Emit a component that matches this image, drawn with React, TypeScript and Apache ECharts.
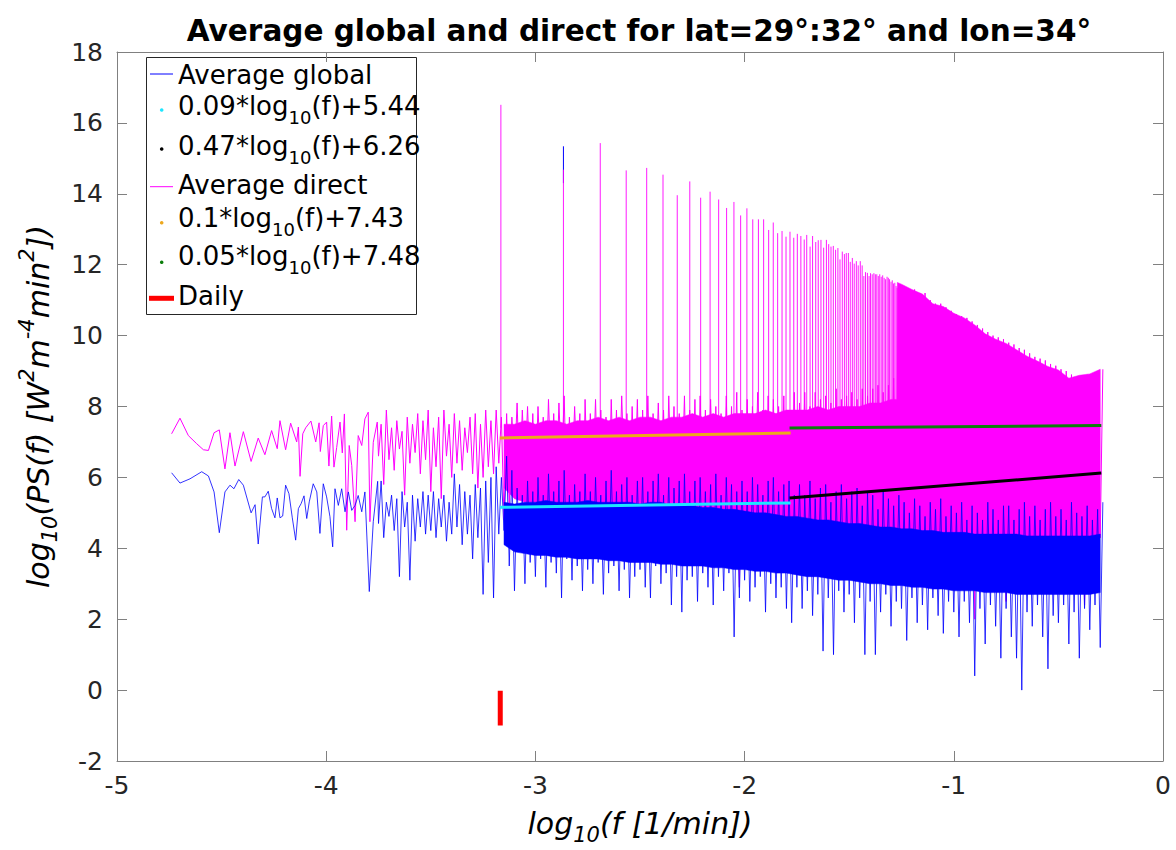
import React, { useEffect, useRef } from "react";
import * as echarts from "echarts";

const FONT = "DejaVu Sans";

// ---------- axis ticks ----------
const xTicks = [-5, -4, -3, -2, -1, 0];
const yTicks = [-2, 0, 2, 4, 6, 8, 10, 12, 14, 16, 18];

// ---------- sparse low-frequency part (read vertices) ----------
const globalSparseX = [-4.739, -4.699, -4.651, -4.595, -4.563, -4.536, -4.511, -4.484, -4.46, -4.441, -4.418, -4.396, -4.359, -4.34, -4.325, -4.305, -4.293, -4.277, -4.261, -4.245, -4.234, -4.221, -4.208, -4.194, -4.178, -4.162, -4.146, -4.133, -4.12, -4.106, -4.093, -4.081, -4.062, -4.045, -4.03, -4.014, -3.998, -3.982, -3.969, -3.958, -3.942, -3.926, -3.91, -3.894, -3.878, -3.862, -3.847, -3.83, -3.815, -3.794, -3.775, -3.754];
const globalSparseY = [6.13, 5.84, 5.96, 6.16, 6.04, 5.59, 4.44, 5.59, 5.78, 5.68, 5.94, 5.78, 5.0, 5.23, 4.12, 5.45, 5.45, 5.61, 5.12, 4.86, 5.42, 4.86, 4.91, 5.78, 5.54, 4.86, 4.23, 5.12, 5.26, 5.48, 4.84, 5.31, 5.82, 5.59, 4.42, 5.82, 5.45, 4.89, 4.04, 5.68, 5.21, 5.68, 5.03, 5.59, 5.07, 5.21, 5.49, 5.03, 5.59, 2.78, 4.75, 5.89];

const directSparseX = [-4.739, -4.699, -4.659, -4.619, -4.587, -4.563, -4.536, -4.511, -4.484, -4.46, -4.436, -4.396, -4.359, -4.325, -4.293, -4.261, -4.234, -4.221, -4.194, -4.17, -4.141, -4.133, -4.125, -4.112, -4.098, -4.073, -4.05, -4.034, -4.028, -4.014, -3.998, -3.987, -3.974, -3.963, -3.95, -3.934, -3.923, -3.913, -3.902, -3.89, -3.878, -3.862, -3.847, -3.83, -3.815, -3.799, -3.791, -3.775, -3.756];
const directSparseY = [7.23, 7.67, 7.18, 6.95, 6.78, 6.76, 7.26, 7.34, 6.24, 7.26, 6.32, 7.29, 6.45, 7.11, 6.64, 7.32, 6.81, 7.6, 6.78, 7.53, 7.0, 7.42, 6.03, 7.23, 7.4, 7.59, 7.0, 7.54, 6.73, 7.46, 7.56, 6.32, 7.73, 6.29, 6.84, 7.56, 6.69, 7.79, 4.51, 6.9, 6.34, 4.75, 7.18, 6.9, 7.65, 7.84, 4.75, 6.99, 7.56];

// ---------- dense part: extremes on a fine grid (-3.75 .. -0.30, step 0.025) ----------
const fineStart = -3.75;
const fineStep = 0.025;
const globalSpikeHi = [
  5.9, 5.3, 5.5, 5.4, 5.6, 5.3, 5.5, 5.4, 5.6, 5.5,
  5.6, 5.4, 5.5, 5.3, 6.1, 5.8, 5.6, 5.5, 5.8, 5.7,
  5.9, 6.0, 6.3, 6.0, 6.6, 6.2, 5.7, 5.5, 5.9, 5.6,
  6.0, 5.5, 6.1, 5.6, 5.9, 6.2, 5.5, 5.8, 5.6, 6.1,
  5.6, 6.0, 5.5, 5.9, 6.2, 5.6, 5.8, 6.0, 5.5, 5.9,
  6.0, 5.6, 5.9, 6.1, 5.5, 6.0, 5.7, 5.9, 6.1, 5.6,
  5.9, 6.0, 5.6, 5.8, 6.1, 5.5, 6.0, 5.8, 5.6, 5.9,
  5.6, 6.0, 5.8, 5.5, 5.9, 6.0, 5.6, 5.8, 5.9, 5.5,
  5.8, 5.5, 5.9, 5.4, 5.7, 5.8, 5.3, 5.6, 5.8, 5.4,
  5.6, 5.7, 5.2, 5.6, 5.5, 5.1, 5.6, 5.4, 5.2, 5.5,
  5.3, 5.0, 5.4, 5.2, 4.9, 5.3, 5.1, 5.4, 4.9, 5.2,
  5.0, 5.3, 4.8, 5.2, 5.0, 4.8, 5.3, 5.1, 4.8, 5.2,
  5.2, 4.8, 5.1, 5.3, 4.9, 5.2, 4.8, 5.1, 5.3, 4.9,
  5.1, 4.8, 5.3, 5.0, 4.9, 5.2, 4.8, 5.1, 5.3,
];
const globalSpikeLo = [
  4.7, 4.3, 4.9, 4.5, 3.2, 4.6, 3.1, 4.2, 4.6, 4.4,
  4.5, 4.3, 4.6, 4.2, 4.4, 4.6, 4.1, 4.4, 3.7, 4.3,
  2.7, 3.6, 2.6, 4.4, 4.5, 3.5, 2.8, 3.9, 3.0, 3.6,
  3.2, 3.7, 2.9, 3.6, 3.3, 2.6, 3.7, 3.1, 3.5, 2.8,
  3.4, 3.0, 3.6, 2.7, 3.3, 3.5, 2.8, 3.4, 2.6, 3.2,
  3.4, 2.9, 2.6, 3.5, 3.0, 3.3, 2.4, 3.2, 2.2, 3.1,
  3.2, 2.5, 3.3, 2.9, 2.4, 3.2, 2.8, 3.3, 1.5, 2.6,
  3.1, 2.5, 2.9, 3.2, 2.2, 3.0, 2.6, 2.9, 2.3, 1.9,
  2.9, 2.3, 2.8, 2.1, 2.7, 1.1, 2.6, 1.0, 2.8, 2.2,
  2.7, 1.9, 2.6, 1.0, 2.5, 1.0, 2.2, 2.7, 1.8, 2.5,
  2.3, 1.4, 2.6, 1.9, 2.4, 1.7, 2.6, 2.1, 1.6, 2.5,
  2.2, 1.5, 2.5, 1.9, 0.4, 2.3, 1.3, 2.4, 1.8, 0.9,
  2.3, 1.5, 0.9, 0.0, 2.2, 1.8, 2.4, 1.5, 0.6, 2.1,
  1.9, 2.4, 1.3, 2.2, 0.9, 2.3, 1.7, 2.4, 1.2,
];
const directSpikeHi = [
  7.5, 7.9, 7.4, 7.6, 7.3, 7.7, 7.5, 7.8, 7.6, 7.9,
  7.4, 7.7, 7.9, 7.5, 7.8, 7.6, 7.4, 7.7, 7.8, 7.5,
  7.9, 7.6, 7.9, 7.7, 7.8, 7.7, 8.1, 7.9, 8.0, 7.8,
  8.0, 7.7, 8.2, 7.8, 8.1, 8.3, 7.7, 8.0, 7.8, 8.2,
  7.8, 8.2, 7.9, 7.7, 8.2, 7.9, 8.3, 7.8, 8.0, 8.2,
  7.9, 8.3, 7.8, 8.1, 7.9, 8.3, 8.0, 7.8, 8.3, 7.9,
  8.2, 8.3, 7.9, 8.2, 8.0, 7.8, 8.3, 8.0, 8.4, 7.9,
  8.2, 8.0, 8.4, 7.9, 8.3, 8.2, 8.0, 8.3, 7.9, 8.4,
  8.1, 8.4, 8.0, 8.4, 8.2, 8.3, 8.1, 8.5, 8.2, 8.3,
  8.4, 8.2, 8.5, 8.3, 8.5, 8.6, 8.4, 8.6, 8.8, 9.0,
  11.4, 11.3, 11.3, 11.2, 11.2, 11.0, 10.9, 10.9, 10.8, 10.7,
  10.6, 10.55, 10.5, 10.4, 10.3, 10.2, 10.1, 10.0, 9.95, 9.9,
  9.8, 9.75, 9.65, 9.6, 9.5, 9.4, 9.35, 9.3, 9.2, 9.15,
  9.05, 9.0, 8.9, 8.8, 8.75, 8.9, 8.9, 8.95, 9.05,
];
const directSpikeLo = [
  6.6, 5.8, 6.5, 6.2, 6.8, 5.5, 6.4, 6.7, 6.1, 6.5,
  5.6, 6.3, 5.4, 6.6, 6.0, 6.4, 6.2, 6.7, 6.1, 5.7,
  6.0, 6.3, 6.1, 6.4, 4.8, 5.2, 6.3, 5.8, 6.2, 5.9,
  5.8, 6.1, 5.5, 6.0, 5.7, 6.2, 5.4, 5.9, 6.0, 3.9,
  5.6, 5.9, 5.2, 5.8, 4.9, 5.7, 5.5, 6.0, 5.3, 5.8,
  4.6, 5.6, 5.2, 5.8, 5.4, 5.0, 5.7, 5.3, 5.6, 4.8,
  5.4, 4.9, 5.5, 5.1, 5.6, 4.8, 5.3, 5.0, 5.4, 2.9,
  5.2, 4.7, 5.3, 5.0, 4.6, 5.2, 4.9, 5.3, 4.5, 5.0,
  4.8, 5.1, 4.4, 4.9, 4.6, 5.0, 4.3, 4.8, 4.5, 4.9,
  4.6, 4.2, 4.8, 4.4, 4.7, 4.1, 4.6, 4.3, 4.7, 4.4,
  4.5, 4.2, 4.6, 4.3, 4.4, 4.0, 4.5, 4.3, 4.1, 4.4,
  4.3, 4.5, 4.1, 4.4, 2.0, 4.3, 4.0, 4.4, 4.2, 4.5,
  2.5, 4.3, 4.1, 4.4, 4.0, 4.3, 4.2, 4.5, 4.1, 4.3,
  4.2, 4.4, 4.0, 4.3, 4.1, 2.4, 4.4, 4.2, 4.3,
];

// ---------- dense part: solid core ----------
const coreStart = -3.15;
const coreStep = 0.05;
const globalCoreHi = [
  5.3, 5.25, 5.3, 5.3, 5.35, 5.3, 5.3, 5.3, 5.35, 5.3,
  5.3, 5.3, 5.3, 5.25, 5.3, 5.3, 5.2, 5.25, 5.2, 5.15,
  5.15, 5.1, 5.1, 5.05, 5.0, 5.0, 4.95, 4.9, 4.9, 4.85,
  4.8, 4.8, 4.75, 4.7, 4.7, 4.65, 4.6, 4.6, 4.55, 4.55,
  4.5, 4.5, 4.45, 4.45, 4.45, 4.4, 4.4, 4.4, 4.4, 4.4,
  4.35, 4.35, 4.35, 4.35, 4.35, 4.35, 4.35, 4.4,
];
const globalCoreLo = [
  4.1, 3.9, 3.85, 3.8, 3.8, 3.75, 3.75, 3.7, 3.7, 3.7,
  3.65, 3.65, 3.6, 3.6, 3.6, 3.55, 3.55, 3.5, 3.5, 3.5,
  3.45, 3.45, 3.4, 3.4, 3.35, 3.35, 3.3, 3.3, 3.25, 3.2,
  3.2, 3.15, 3.1, 3.1, 3.05, 3.0, 3.0, 2.95, 2.95, 2.9,
  2.9, 2.85, 2.85, 2.8, 2.8, 2.8, 2.75, 2.75, 2.75, 2.7,
  2.7, 2.7, 2.7, 2.7, 2.7, 2.7, 2.7, 2.75,
];
const directCoreX = [
  -3.15, -3.1, -3.05, -3.0, -2.95, -2.9, -2.85, -2.8, -2.75, -2.7,
  -2.65, -2.6, -2.55, -2.5, -2.45, -2.4, -2.35, -2.3, -2.25, -2.2,
  -2.15, -2.1, -2.05, -2.0, -1.95, -1.9, -1.85, -1.8, -1.75, -1.7,
  -1.65, -1.6, -1.55, -1.5, -1.45, -1.4, -1.35, -1.3, -1.272, -1.27,
  -1.25, -1.2, -1.15, -1.1, -1.05, -1.0, -0.95, -0.9, -0.85, -0.8,
  -0.75, -0.7, -0.65, -0.6, -0.55, -0.5, -0.45, -0.4, -0.35, -0.3,
];
const directCoreHi = [
  7.5, 7.5, 7.6, 7.5, 7.6, 7.6, 7.5, 7.6, 7.6, 7.7,
  7.6, 7.7, 7.6, 7.7, 7.7, 7.6, 7.7, 7.7, 7.8, 7.7,
  7.8, 7.7, 7.8, 7.8, 7.8, 7.9, 7.8, 7.9, 7.9, 7.9,
  8.0, 7.9, 8.0, 8.0, 8.0, 8.1, 8.1, 8.2, 8.2, 11.5,
  11.45, 11.3, 11.17, 10.9, 10.82, 10.63, 10.5, 10.3, 10.05, 9.9,
  9.78, 9.6, 9.42, 9.28, 9.13, 9.03, 8.8, 8.88, 8.92, 9.05,
];
const directCoreLo = [
  5.7, 5.4, 5.3, 5.3, 5.25, 5.25, 5.2, 5.2, 5.2, 5.15,
  5.15, 5.15, 5.1, 5.1, 5.1, 5.1, 5.05, 5.05, 5.0, 5.0,
  5.0, 4.95, 4.95, 4.9, 4.9, 4.85, 4.85, 4.8, 4.8, 4.75,
  4.75, 4.7, 4.7, 4.65, 4.65, 4.6, 4.6, 4.55, 4.55, 4.55,
  4.5, 4.5, 4.45, 4.45, 4.4, 4.4, 4.4, 4.35, 4.3, 4.3,
  4.3, 4.3, 4.3, 4.3, 4.3, 4.3, 4.3, 4.3, 4.3, 4.3,
];

// ---------- daily harmonics (spike tops) ----------
const harmBase = 7.4;
const directHarmX = [-3.165, -2.866, -2.69, -2.566, -2.468, -2.39, -2.322, -2.262, -2.21, -2.165, -2.124, -2.086, -2.051, -2.019, -1.989, -1.961, -1.934, -1.909, -1.885, -1.863, -1.842, -1.821, -1.802, -1.783, -1.765, -1.748, -1.731, -1.715, -1.703, -1.687, -1.675, -1.66, -1.648, -1.635, -1.622, -1.609, -1.598, -1.587, -1.576, -1.565, -1.554, -1.544, -1.533, -1.523, -1.514, -1.504, -1.495, -1.485, -1.476, -1.466, -1.457, -1.447, -1.438, -1.43, -1.422, -1.413, -1.405, -1.398, -1.39, -1.382, -1.375, -1.368, -1.361, -1.354, -1.347, -1.34, -1.333, -1.326, -1.319, -1.313, -1.307, -1.3, -1.294, -1.288, -1.282, -1.276, -1.271, -1.265, -1.259, -1.254, -1.248, -1.243, -1.238, -1.232, -1.227, -1.222, -1.217];
const directHarmY = [
  16.51, 14.68, 15.43, 14.66, 14.73, 14.54, 13.96, 14.35, 13.89, 14.06,
  13.84, 13.6, 13.77, 13.39, 13.59, 13.28, 13.28, 13.28, 12.98, 13.19,
  12.89, 12.95, 12.79, 12.93, 12.76, 12.87, 12.81, 12.71, 12.84, 12.51,
  12.81, 12.64, 12.69, 12.7, 12.48, 12.7, 12.58, 12.51, 12.53, 12.42,
  12.47, 12.15, 12.37, 12.3, 12.33, 12.33, 12.08, 12.19, 12.03, 12.1,
  11.98, 12.1, 11.98, 11.68, 11.79, 11.77, 11.68, 11.76, 11.73, 11.76,
  11.73, 11.73, 11.68, 11.73, 11.66, 11.7, 11.63, 11.59, 11.66, 11.63,
  11.59, 11.52, 11.56, 11.47, 11.49, 11.4, 11.35, 11.31, 11.33, 11.28,
  11.31, 11.24, 11.31, 11.26, 11.24, 11.26, 11.21,
];
const globalHarmX = [-2.866];
const globalHarmY = [15.34];
const globalHarmBase = 14.3;

// ---------- fitted lines (end points) ----------
const fitGlobal1X = [-3.17, -1.78];
const fitGlobal1Y = [5.155, 5.28];
const fitGlobal2X = [-1.785, -0.295];
const fitGlobal2Y = [5.421, 6.121];
const fitDirect1X = [-3.17, -1.78];
const fitDirect1Y = [7.113, 7.252];
const fitDirect2X = [-1.785, -0.295];
const fitDirect2Y = [7.391, 7.465];

// ---------- daily marker ----------
const dailyX = [-3.168, -3.168];
const dailyY = [-0.02, -1.0];

const legendLabels = [
  "Average global",
  "0.09*log{s|10}(f)+5.44",
  "0.47*log{s|10}(f)+6.26",
  "Average direct",
  "0.1*log{s|10}(f)+7.43",
  "0.05*log{s|10}(f)+7.48",
  "Daily",
];

const BLUE = "#0000ff";
const MAGENTA = "#ff00ff";
const CYAN = "#1ee6ff";
const ORANGE = "#eda81e";
const GREEN = "#0a7d0a";
const AXIS = "#808080";
const LABEL = "#262626";

function pairs(xs: number[], ys: number[]) {
  return xs.map((x, i) => [x, ys[i]]);
}

function gridX(n: number) {
  const out: number[] = [];
  for (let j = 0; j < n; j++) out.push(coreStart + j * coreStep);
  return out;
}

function zigzag(lo: number[], hi: number[]) {
  const out: number[][] = [];
  for (let i = 0; i < lo.length; i++) {
    const x = fineStart + i * fineStep;
    out.push([x, lo[i]]);
    out.push([x + fineStep / 2, hi[i]]);
  }
  return out;
}

function band(xs: number[], lo: number[], hi: number[], color: string, z: number) {
  return {
    type: "custom",
    z,
    silent: true,
    clip: true,
    data: xs.map((x, j) => [x, hi[j], lo[j]]),
    encode: { x: 0, y: [1, 2] },
    renderItem: (params: any, api: any) => {
      if (params.dataIndex !== 0) return null;
      const pts: number[][] = [];
      for (let j = 0; j < xs.length; j++) pts.push(api.coord([xs[j], hi[j]]));
      for (let j = xs.length - 1; j >= 0; j--) pts.push(api.coord([xs[j], lo[j]]));
      return { type: "polygon", shape: { points: pts }, style: { fill: color, stroke: color, lineWidth: 0.5 } };
    },
  };
}

function spikes(xs: number[], ys: number[], base: number, color: string, z: number, opacity: number) {
  return {
    type: "custom",
    z,
    silent: true,
    clip: true,
    data: pairs(xs, ys),
    encode: { x: 0, y: 1 },
    renderItem: (params: any, api: any) => {
      const top = api.coord([api.value(0), api.value(1)]);
      const bot = api.coord([api.value(0), base]);
      return {
        type: "line",
        shape: { x1: top[0], y1: top[1], x2: bot[0], y2: bot[1] },
        style: { stroke: color, lineWidth: 1, opacity },
      };
    },
  };
}

function lineSeries(data: number[][], color: string, width: number, z: number, opacity = 1) {
  return {
    type: "line",
    data,
    z,
    silent: true,
    showSymbol: false,
    symbol: "none",
    clip: true,
    lineStyle: { color, width, opacity, cap: "butt" },
  };
}

const subRich = {
  n: { fontFamily: FONT, fontSize: 26, color: "#000", lineHeight: 40, verticalAlign: "middle" },
  s: { fontFamily: FONT, fontSize: 18, color: "#000", verticalAlign: "bottom" },
};

function buildOption() {
  const legendRows = [74.6, 106.3, 146.3, 185.3, 218, 256.3, 296.3];
  const legendChildren: any[] = [
    { type: "rect", shape: { x: 146.5, y: 57.5, width: 270, height: 257 }, style: { fill: "#fff", stroke: LABEL, lineWidth: 1 } },
    { type: "line", shape: { x1: 150, y1: 74, x2: 173, y2: 74 }, style: { stroke: BLUE, lineWidth: 1 } },
    { type: "circle", shape: { cx: 161.7, cy: 110, r: 1.8 }, style: { fill: CYAN } },
    { type: "circle", shape: { cx: 161.7, cy: 149, r: 1.8 }, style: { fill: "#000" } },
    { type: "line", shape: { x1: 150, y1: 186.7, x2: 173, y2: 186.7 }, style: { stroke: MAGENTA, lineWidth: 1 } },
    { type: "circle", shape: { cx: 161.7, cy: 222.7, r: 1.8 }, style: { fill: ORANGE } },
    { type: "circle", shape: { cx: 161.7, cy: 262.3, r: 1.8 }, style: { fill: GREEN } },
    { type: "line", shape: { x1: 149, y1: 298.3, x2: 174, y2: 298.3 }, style: { stroke: "#ff0000", lineWidth: 5 } },
  ];
  legendLabels.forEach((t, k) => {
    const hasSub = t.indexOf("{s|") >= 0;
    legendChildren.push({
      type: "text",
      x: 178,
      y: legendRows[k],
      style: hasSub
        ? {
            text: t.replace(/^([^{]*)\{s\|10\}(.*)$/, "{n|$1}{s|10}{n|$2}"),
            rich: subRich,
            verticalAlign: "middle",
            align: "left",
          }
        : { text: t, fontFamily: FONT, fontSize: 26, fill: "#000", verticalAlign: "middle", align: "left" },
    });
  });

  const axisCommon = {
    type: "value",
    axisLine: { show: true, onZero: false, lineStyle: { color: AXIS, width: 1 } },
    axisTick: { show: true, inside: true, length: 10, lineStyle: { color: AXIS, width: 1 } },
    splitLine: { show: false },
  };

  const nameRich = {
    i: { fontFamily: FONT, fontStyle: "italic", fontSize: 30, color: "#000", lineHeight: 44, verticalAlign: "middle" },
    s: { fontFamily: FONT, fontStyle: "italic", fontSize: 21, color: "#000", verticalAlign: "bottom" },
    p: { fontFamily: FONT, fontStyle: "italic", fontSize: 21, color: "#000", verticalAlign: "top" },
  };

  return {
    animation: false,
    backgroundColor: "#ffffff",
    title: {
      text: "Average global and direct for lat=29°:32° and lon=34°",
      left: 634,
      top: 11,
      textAlign: "center",
      textStyle: { fontFamily: FONT, fontWeight: "bold", fontSize: 29.5, color: "#000" },
    },
    grid: { left: 117, top: 52, width: 1046, height: 711, containLabel: false },
    xAxis: [
      {
        ...axisCommon,
        position: "bottom",
        min: xTicks[0],
        max: xTicks[xTicks.length - 1],
        interval: 1,
        axisLabel: { show: true, color: LABEL, fontFamily: FONT, fontSize: 25, margin: 12 },
        name: "{i|log}{s|10}{i|(f [1/min])}",
        nameLocation: "middle",
        nameGap: 40,
        nameTextStyle: { rich: nameRich },
      },
      {
        ...axisCommon,
        position: "top",
        min: xTicks[0],
        max: xTicks[xTicks.length - 1],
        interval: 1,
        axisLabel: { show: false },
      },
    ],
    yAxis: [
      {
        ...axisCommon,
        position: "left",
        min: yTicks[0],
        max: yTicks[yTicks.length - 1],
        interval: 2,
        axisLabel: { show: true, color: LABEL, fontFamily: FONT, fontSize: 25, margin: 14 },
        name: "{i|log}{s|10}{i|(PS(f) [W}{p|2}{i|m}{p|-4}{i|min}{p|2}{i|])}",
        nameLocation: "middle",
        nameGap: 55,
        nameRotate: 90,
        nameTextStyle: { rich: nameRich },
      },
      {
        ...axisCommon,
        position: "right",
        min: yTicks[0],
        max: yTicks[yTicks.length - 1],
        interval: 2,
        axisLabel: { show: false },
      },
    ],
    series: [
      spikes(globalHarmX, globalHarmY, globalHarmBase, BLUE, 1, 1),
      band(directCoreX, directCoreLo, directCoreHi, MAGENTA, 2),
      lineSeries([...pairs(directSparseX, directSparseY), ...zigzag(directSpikeLo, directSpikeHi)], MAGENTA, 1, 2, 1),
      spikes(directHarmX, directHarmY, harmBase, MAGENTA, 2, 0.9),
      band(gridX(globalCoreHi.length), globalCoreLo, globalCoreHi, BLUE, 3),
      lineSeries([...pairs(globalSparseX, globalSparseY), ...zigzag(globalSpikeLo, globalSpikeHi)], BLUE, 1, 3, 0.8),
      lineSeries(pairs(fitGlobal1X, fitGlobal1Y), CYAN, 3, 4),
      lineSeries(pairs(fitGlobal2X, fitGlobal2Y), "#000000", 3, 4),
      lineSeries(pairs(fitDirect1X, fitDirect1Y), ORANGE, 3, 4),
      lineSeries(pairs(fitDirect2X, fitDirect2Y), GREEN, 3, 4),
      lineSeries(pairs(dailyX, dailyY), "#ff0000", 5, 4),
    ],
    graphic: [{ type: "group", z: 100, children: legendChildren }],
  };
}

export default function App() {
  const ref = useRef<HTMLDivElement>(null);
  useEffect(() => {
    if (!ref.current) return;
    const chart = echarts.init(ref.current, null, { renderer: "svg" });
    chart.setOption(buildOption() as any);
    return () => chart.dispose();
  }, []);
  return (
    <div
      ref={ref}
      style={{ position: "fixed", left: 0, top: 0, width: 1176, height: 850, background: "#fff" }}
    />
  );
}
